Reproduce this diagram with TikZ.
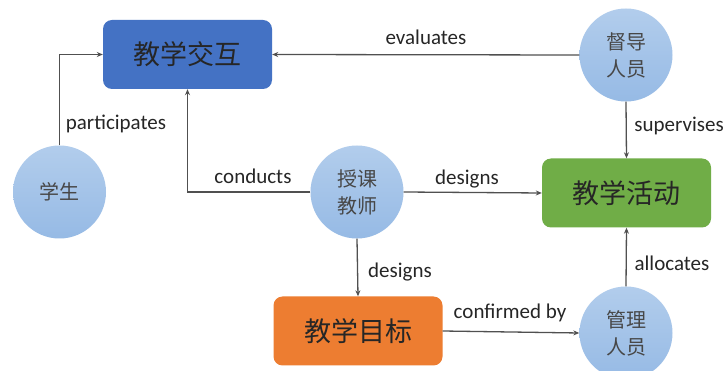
\documentclass[tikz,border=0pt]{standalone}
\usepackage{fontspec}
\setmainfont{Carlito}
\newfontfamily\cjk{Noto Sans CJK SC}
\usetikzlibrary{arrows.meta,shadings}
\definecolor{bluebox}{HTML}{4472C4}
\definecolor{greenbox}{HTML}{70AD47}
\definecolor{orangebox}{HTML}{ED7D31}
\definecolor{circtop}{HTML}{B2CDEC}
\definecolor{circbot}{HTML}{96BAE5}
\definecolor{linegray}{HTML}{505050}
\definecolor{txtdark}{HTML}{262626}
\tikzset{
  box/.style={rounded corners=9pt, minimum width=169pt, minimum height=69pt, inner sep=0pt,
    font=\cjk\fontsize{27}{30}\selectfont, text=txtdark},
  person/.style={circle, minimum size=93pt, inner sep=0pt, top color=circtop, bottom color=circbot,
    draw=none, font=\cjk\fontsize{20}{27}\selectfont, text=black!72, align=center},
  conn/.style={draw=linegray, line width=1.3pt, -{Stealth[length=6pt,width=5pt]}},
  lbl/.style={font=\fontsize{21}{24}\selectfont, text=txtdark}
}
\begin{document}
\begin{tikzpicture}[x=1pt,y=-1pt]
\useasboundingbox (0,0) rectangle (726,371);
\clip (0,0) rectangle (726,371);
\fill[white] (0,0) rectangle (726,371);
\node[box, fill=bluebox] (jxjh) at (187.5,54.5) {教学交互};
\node[box, fill=greenbox] (jxhd) at (626.5,193) {教学活动};
\node[box, fill=orangebox] (jxmb) at (358,331) {教学目标};
\node[person] (xs) at (59.5,192) {学生};
\node[person] (skjs) at (357,192) {授课\\教师};
\node[person] (ddry) at (626,55) {督导\\人员};
\node[person] (glry) at (626,333) {管理\\人员};

\draw[conn] (xs.north) |- (jxjh.west);
\draw[conn] (skjs.west) -| (jxjh.south);
\draw[conn] (ddry.west) -- (jxjh.east);
\draw[conn] (ddry.south) -- (jxhd.north);
\draw[conn] (skjs.east) -- (jxhd.west);
\draw[conn] (skjs.south) -- (jxmb.north);
\draw[conn] (jxmb.east) -- (glry.west);
\draw[conn] (glry.north) -- (jxhd.south);

\node[lbl] (l1) at (116,124) {participates};
\node[lbl] (l2) at (253,176) {conducts};
\node[lbl] (l3) at (426,37) {evaluates};
\node[lbl] (l4) at (679,126) {supervises};
\node[lbl] (l5) at (467,179) {designs};
\node[lbl] (l6) at (400,272) {designs};
\node[lbl] (l7) at (510,313) {confirmed by};
\node[lbl] (l8) at (672,263) {allocates};
\end{tikzpicture}
\end{document}
